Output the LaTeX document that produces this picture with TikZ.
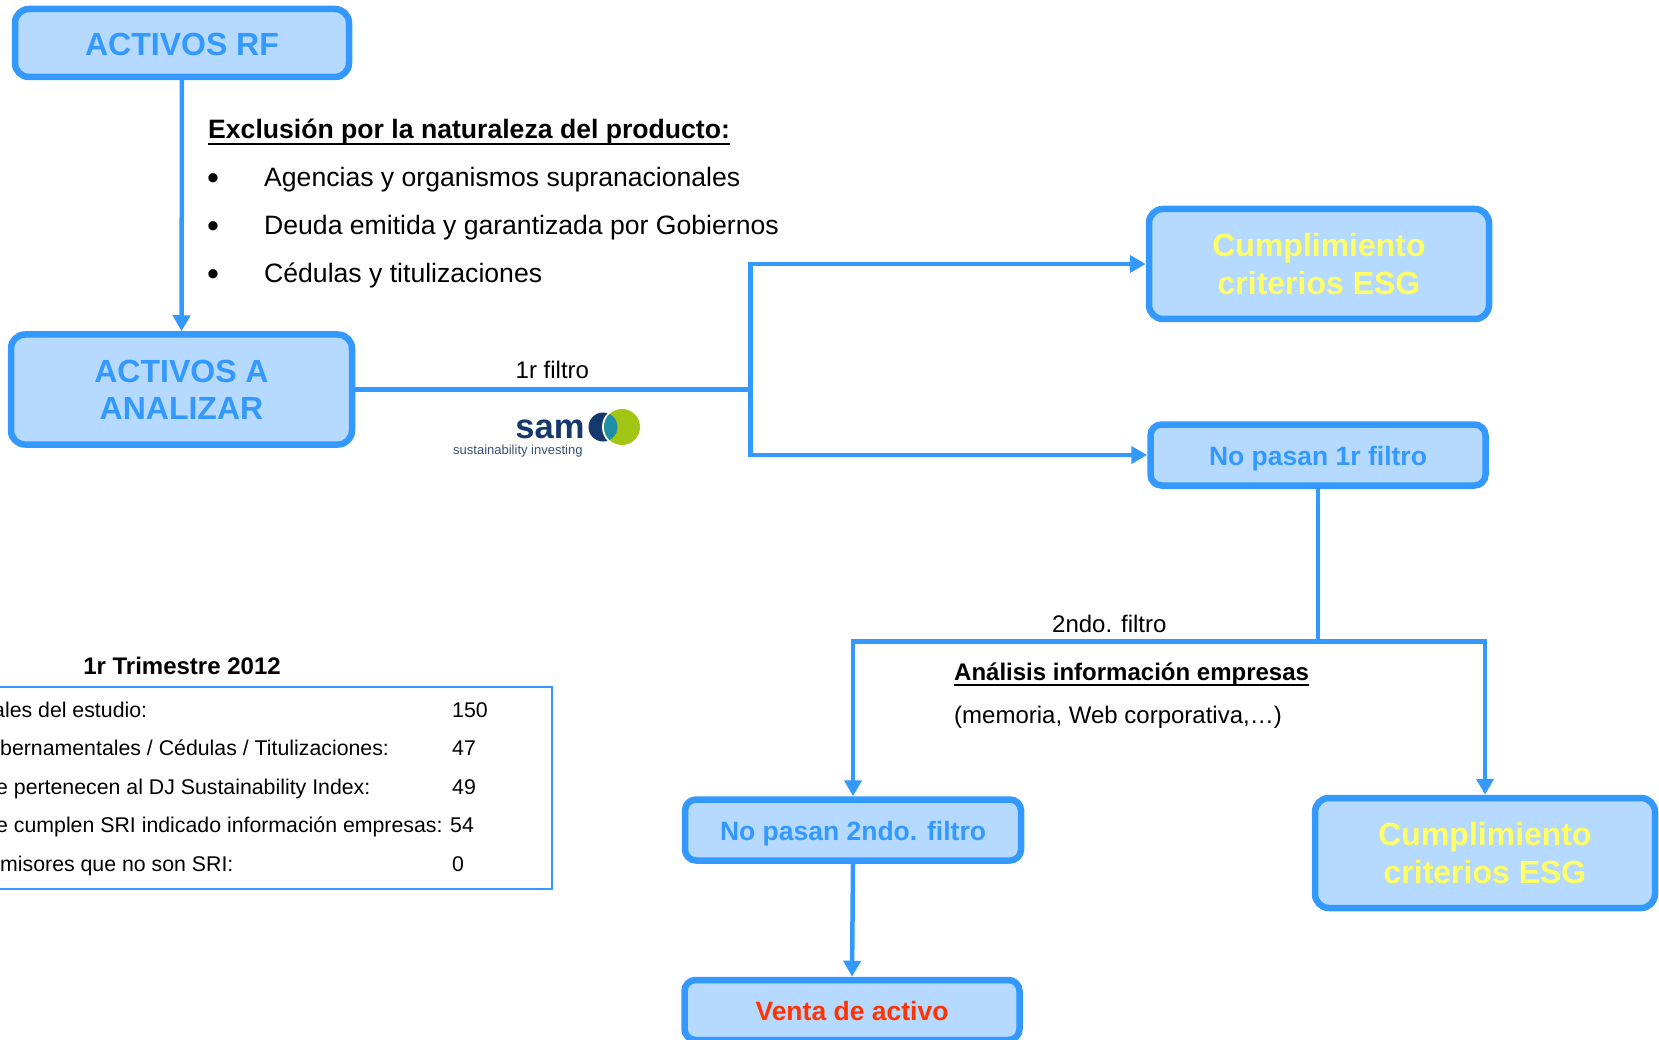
\documentclass[tikz,border=0pt]{standalone}
\usepackage{fontspec}
\setmainfont{Liberation Sans}
\usetikzlibrary{arrows.meta}
\definecolor{bl}{HTML}{3399FF}
\definecolor{fl}{HTML}{B5D9FF}
\definecolor{yl}{HTML}{FFFF66}
\definecolor{rd}{HTML}{FF3300}
\definecolor{samb}{HTML}{15386E}
\definecolor{samg}{HTML}{A3C614}
\definecolor{samt}{HTML}{1F8FA8}
\newcommand{\fs}[1]{\fontsize{#1pt}{#1pt}\selectfont}
\newsavebox{\ulbox}
\newcommand{\ulx}[1]{\sbox{\ulbox}{#1}\usebox{\ulbox}\llap{\rule[-6pt]{\wd\ulbox}{2pt}}}
\tikzset{
 box/.style={draw=bl,fill=fl,line width=6.5pt,rounded corners=14pt,inner sep=0pt,align=center,text=bl,font=\fs{32}\bfseries},
 smallbox/.style={box,rounded corners=11pt,font=\fs{26.5}\bfseries,text height=21pt,text depth=0pt},
 link/.style={draw=bl,line width=4.5pt},
 arrow/.style={link,-{Triangle[length=16pt,width=17pt]}},
 txt/.style={anchor=base west,inner sep=0pt,font=\fs{26.6}},
 tbl/.style={anchor=base west,inner sep=0pt,font=\fs{21.3}},
}
\begin{document}
\begin{tikzpicture}[x=1pt,y=-1pt]
\useasboundingbox (0,0) rectangle (1659,1040);
\node[box,minimum width=334pt,minimum height=68pt,text height=25.5pt,text depth=0pt] (rf) at (182,43) {ACTIVOS RF};
\node[box,minimum width=341pt,minimum height=110pt] (ana) at (181.5,389.5) {ACTIVOS A\\[5pt]ANALIZAR};
\node[box,minimum width=340pt,minimum height=110pt,text=yl] (c1) at (1319,264) {Cumplimiento\\[6.5pt]criterios ESG};
\node[smallbox,minimum width=335pt,minimum height=61pt] (np1) at (1318,455) {No pasan 1r filtro};
\node[box,minimum width=340pt,minimum height=110pt,text=yl] (c2) at (1485,853) {Cumplimiento\\[6.5pt]criterios ESG};
\node[smallbox,minimum width=336pt,minimum height=61pt] (np2) at (853,830) {No pasan 2ndo. filtro};
\node[smallbox,minimum width=335pt,minimum height=60pt,text=rd] (ve) at (852,1010) {Venta de activo};
\coordinate (j1) at (750.5,389.5);
\coordinate (j2) at (1318,641.5);
\draw[arrow] (rf) -- (ana);
\draw[link] (ana.east) -- (j1);
\draw[arrow] (j1) |- (c1.west);
\draw[arrow] (j1) |- (np1.west);
\draw[link] (np1.south) -- (j2);
\draw[arrow] (j2) -| (np2.north);
\draw[arrow] (j2) -| (c2.north);
\draw[arrow] (np2.south) -- (ve.north);
\node[txt,font=\fs{26.6}\bfseries] (h1) at (208,139) {\ulx{Exclusión por la naturaleza del producto:}};
\foreach \y/\by/\tx/\n in {187/189.5/{Agencias y organismos supranacionales}/a,235/237.5/{Deuda emitida y garantizada por Gobiernos}/b,283/285.5/{Cédulas y titulizaciones}/c}{
  \node[txt,font=\fs{34}] (bul\n) at (207,\by) {•};
  \node[txt] (it\n) at (264,\y) {\tx};
}
\node[txt,font=\fs{24}] (f1) at (515.5,378) {1r filtro};
\node[txt,font=\fs{24}] (f2) at (1052,632) {2ndo. filtro};
\node[txt,font=\fs{24}\bfseries] (an) at (954,680) {\ulx{Análisis información empresas}};
\node[txt,font=\fs{24}] (me) at (954,723) {(memoria, Web corporativa,…)};
% logo
\fill[samb] (603,427) circle (14.5pt);
\fill[white] (622,427) circle (20pt);
\fill[samg] (622,427) circle (18pt);
\begin{scope}\clip (622,427) circle (18pt); \fill[samt] (603,427) circle (14.5pt);\end{scope}
\node[anchor=base,inner sep=0pt,font=\fs{34.5}\bfseries,text=samb] (sam) at (550,438) {sam};
\node[anchor=base west,inner sep=0pt,font=\fs{13},text=samb!70!gray] (si) at (453,454) {sustainability investing};
% table
\node[anchor=base,inner sep=0pt,font=\fs{24}\bfseries] (tt) at (182,674) {1r Trimestre 2012};
\draw[draw=bl,line width=2.5pt] (-5,687) rectangle (552,889);
\foreach \y/\tx/\v/\xx/\lx/\n in {717/{ales del estudio:}/150/452/-7/a,755/{bernamentales / Cédulas / Titulizaciones:}/47/452/0/b,794/{e pertenecen al DJ Sustainability Index:}/49/452/-4/c,832/{e cumplen SRI indicado información empresas:}/54/450/-4/d,871/{misores que no son SRI:}/0/452/0/e}{
  \node[tbl] (l\n) at (\lx,\y) {\tx};
  \node[tbl] (v\n) at (\xx,\y) {\v};
}
\end{tikzpicture}
\end{document}
